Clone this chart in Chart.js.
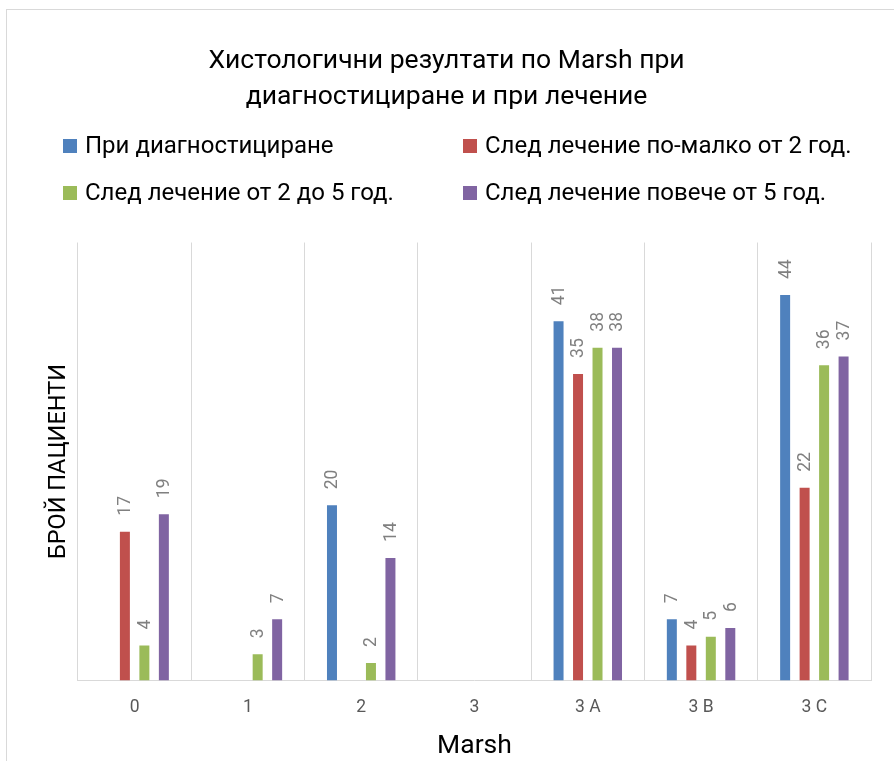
<!DOCTYPE html>
<html>
<head>
<meta charset="utf-8">
<script src="https://cdn.jsdelivr.net/npm/chart.js@4/dist/chart.umd.min.js"></script>
<style>
  html, body { margin: 0; padding: 0; background: #fff; overflow: hidden; }
  #frame { position: absolute; left: 6px; top: 9px; width: 1000px; height: 1000px;
           border-left: 1px solid #d9d9d9; border-top: 1px solid #d9d9d9; }
  #c { position: absolute; left: 0; top: 0; }
</style>
</head>
<body>
<div id="frame"></div>
<canvas id="c" width="894" height="761"></canvas>
<script>
const categories = ["0", "1", "2", "3", "3 A", "3 B", "3 C"];
const seriesNames = [
  "При диагностициране",
  "След лечение по-малко от 2 год.",
  "След лечение от 2 до 5 год.",
  "След лечение повече от 5 год."
];
const atDiagnosis   = [null, null, 20, null, 41, 7, 44];
const under2Years   = [17, null, null, null, 35, 4, 22];
const from2to5Years = [4, 3, 2, null, 38, 5, 36];
const over5Years    = [19, 7, 14, null, 38, 6, 37];
const seriesColors = ["#4f81bd", "#c0504d", "#9bbb59", "#8064a2"];
const chartTitle = ["Хистологични резултати по Marsh при", "диагностициране и при лечение"];
const yTitle = "БРОЙ ПАЦИЕНТИ";
const xTitle = "Marsh";

Chart.defaults.font.family = "Roboto, 'Noto Sans', sans-serif";

const valueLabels = {
  id: 'valueLabels',
  afterDatasetsDraw(chart) {
    const ctx = chart.ctx;
    ctx.save();
    ctx.font = "17.5px Roboto, 'Noto Sans', sans-serif";
    ctx.fillStyle = '#808080';
    ctx.textAlign = 'left';
    ctx.textBaseline = 'middle';
    chart.data.datasets.forEach((ds, i) => {
      const meta = chart.getDatasetMeta(i);
      meta.data.forEach((bar, j) => {
        const v = ds.data[j];
        if (v === null || v === undefined) return;
        ctx.save();
        ctx.translate(bar.x + 1, bar.y - 16);
        ctx.rotate(-Math.PI / 2);
        ctx.fillText(String(v), 0, 0);
        ctx.restore();
      });
    });
    ctx.restore();
  }
};

const gridLegend = {
  id: 'gridLegend',
  afterDraw(chart) {
    const ctx = chart.ctx;
    const colX = [63, 463];
    const rowY = [146, 193];
    const box = 14;
    ctx.save();
    ctx.font = "24px Roboto, 'Noto Sans', sans-serif";
    ctx.textAlign = 'left';
    ctx.textBaseline = 'middle';
    chart.data.datasets.forEach((ds, i) => {
      const x = colX[i % 2];
      const y = rowY[Math.floor(i / 2)];
      ctx.fillStyle = ds.backgroundColor;
      ctx.fillRect(x, y - box / 2, box, box);
      ctx.fillStyle = '#000';
      ctx.fillText(ds.label, x + 22, y + 1);
    });
    ctx.restore();
  }
};

const seriesData = [atDiagnosis, under2Years, from2to5Years, over5Years];

new Chart(document.getElementById('c'), {
  type: 'bar',
  data: {
    labels: categories,
    datasets: seriesNames.map((name, i) => ({
      label: name,
      data: seriesData[i],
      backgroundColor: seriesColors[i],
      borderWidth: 0,
      categoryPercentage: 0.688,
      barPercentage: 0.513
    }))
  },
  options: {
    responsive: false,
    animation: false,
    devicePixelRatio: 1,
    layout: { padding: { left: 22, right: 23, top: 0, bottom: 0 } },
    plugins: {
      legend: { display: false },
      tooltip: { enabled: false },
      title: {
        display: true,
        text: chartTitle,
        color: '#000',
        font: { size: 26.5, weight: 'normal', lineHeight: 1.34 },
        padding: { top: 43.75, bottom: 127.75 }
      }
    },
    scales: {
      x: {
        offset: true,
        grid: { display: true, color: '#d9d9d9', lineWidth: 1, drawTicks: false, offset: true },
        border: { display: true, color: '#d9d9d9', width: 1 },
        ticks: { color: '#595959', font: { size: 17.5, lineHeight: 1.943 }, padding: 10 },
        title: {
          display: true, text: xTitle, color: '#000',
          font: { size: 26.5, lineHeight: 0.883 },
          padding: { top: 0, bottom: 3 }
        }
      },
      y: {
        min: 0, max: 50,
        grid: { display: false, drawTicks: false },
        border: { display: false },
        ticks: { display: false },
        title: {
          display: true, text: yTitle, color: '#000',
          font: { size: 23.5, lineHeight: 1.123 },
          padding: { top: 23.8, bottom: 5.8 }
        }
      }
    }
  },
  plugins: [valueLabels, gridLegend]
});
</script>
</body>
</html>
